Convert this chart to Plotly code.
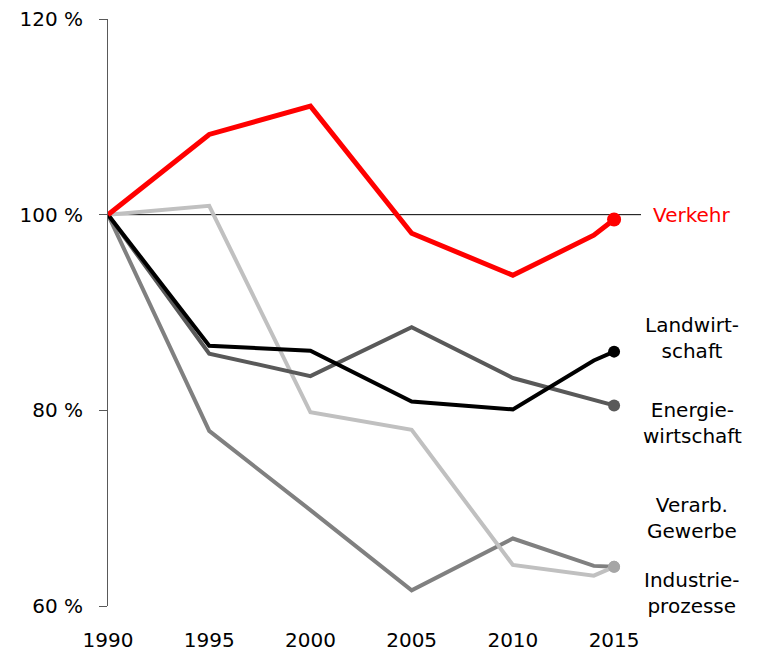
import plotly.graph_objects as go

years = [1990, 1995, 2000, 2005, 2010, 2014, 2015]
verkehr = [100, 108.2, 111.1, 98.1, 93.8, 97.9, 99.5]
landwirtschaft = [100, 86.6, 86.1, 80.9, 80.1, 85.1, 86.0]
energiewirtschaft = [100, 85.8, 83.5, 88.5, 83.3, 81.0, 80.5]
verarb_gewerbe = [100, 77.9, 69.8, 61.6, 66.9, 64.1, 64.0]
industrieprozesse = [100, 100.9, 79.8, 78.0, 64.2, 63.1, 64.0]

series = [
    ("Verarb. Gewerbe", verarb_gewerbe, "#808080", 4, "#a6a6a6", 12),
    ("Industrieprozesse", industrieprozesse, "#c0c0c0", 4, "#a6a6a6", 12),
    ("Energiewirtschaft", energiewirtschaft, "#595959", 4, "#595959", 12),
    ("Landwirtschaft", landwirtschaft, "#000000", 4, "#000000", 12),
    ("Verkehr", verkehr, "#ff0000", 5, "#ff0000", 14),
]

labels = [
    ("Verkehr", 100.0, "#ff0000"),
    ("Landwirt-<br>schaft", 87.4, "#000000"),
    ("Energie-<br>wirtschaft", 78.7, "#000000"),
    ("Verarb.<br>Gewerbe", 69.0, "#000000"),
    ("Industrie-<br>prozesse", 61.3, "#000000"),
]

FONT = "DejaVu Sans"
fig = go.Figure()
for name, vals, color, w, mcolor, msize in series:
    fig.add_trace(go.Scatter(x=years, y=vals, mode="lines", name=name,
                             line=dict(color=color, width=w), showlegend=False,
                             cliponaxis=False))
for name, vals, color, w, mcolor, msize in series:
    fig.add_trace(go.Scatter(x=[years[-1]], y=[vals[-1]], mode="markers",
                             marker=dict(color=mcolor, size=msize),
                             showlegend=False, cliponaxis=False))

fig.add_shape(type="line", xref="paper", x0=0, x1=1, yref="y", y0=100, y1=100,
              line=dict(color="black", width=1), layer="below")

for text, y, color in labels:
    fig.add_annotation(x=1.0957, xref="paper", y=y, yref="y", text=text,
                       showarrow=False, xanchor="center", yanchor="middle",
                       font=dict(family=FONT, size=20, color=color), align="center")

fig.update_layout(
    width=758, height=653,
    margin=dict(l=108, r=117, t=19, b=47, autoexpand=False),
    plot_bgcolor="white", paper_bgcolor="white",
    font=dict(family=FONT, size=20, color="black"),
    xaxis=dict(range=[1990, 2016.33], tickvals=[1990, 1995, 2000, 2005, 2010, 2015],
               ticktext=["1990", "1995", "2000", "2005", "2010", "2015"],
               showgrid=False, zeroline=False, showline=False, ticks="",
               tickfont=dict(size=20), automargin=False,
               ticklabelstandoff=20, ticklabeloverflow="allow"),
    yaxis=dict(range=[60, 120], tickvals=[60, 80, 100, 120],
               ticktext=["60 %", "80 %", "100 %", "120 %"],
               showgrid=False, zeroline=False, showline=True, linecolor="#595959",
               linewidth=1, ticks="outside", ticklen=8, tickcolor="#595959",
               tickfont=dict(size=20), automargin=False,
               ticklabelstandoff=12, ticklabeloverflow="allow"),
)
fig.write_html("out.html", config={"displayModeBar": False},
               post_script="document.body.style.margin='0';document.body.style.overflow='hidden';")
